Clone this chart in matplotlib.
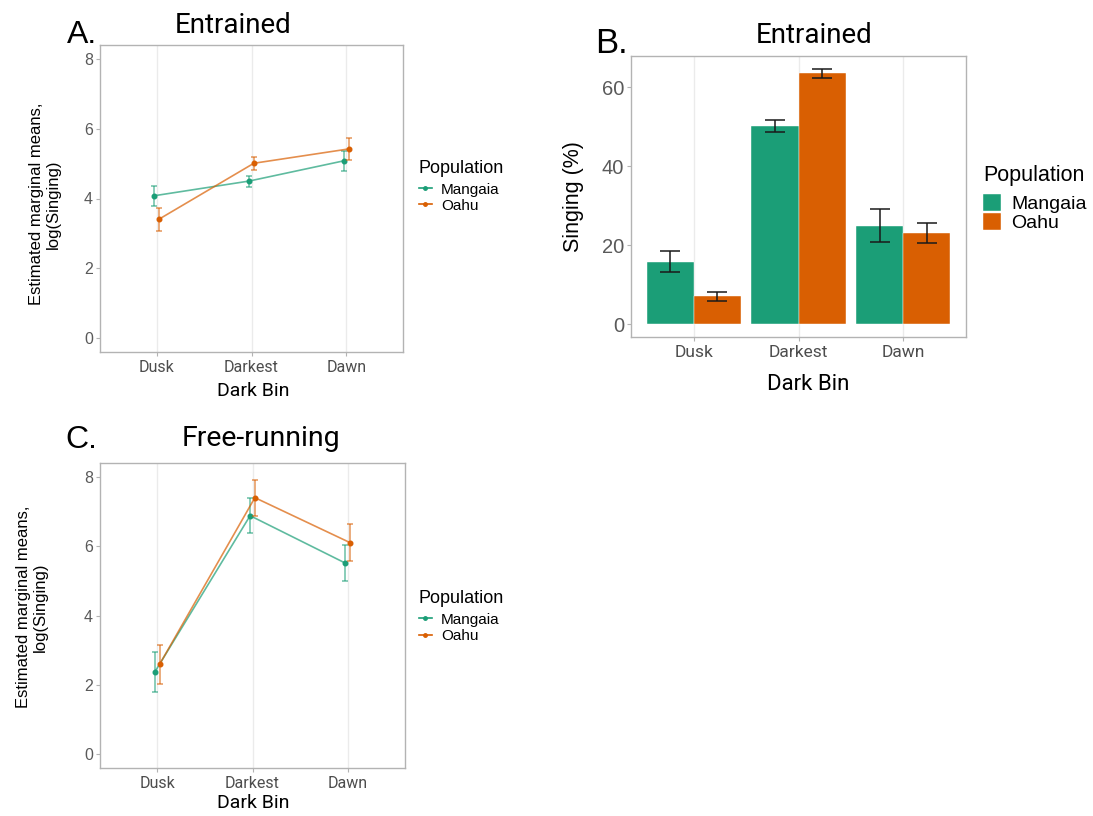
import matplotlib.pyplot as plt
from matplotlib.lines import Line2D
from matplotlib.patches import Patch
import numpy as np

bins = ['Dusk', 'Darkest', 'Dawn']
populations = ['Mangaia', 'Oahu']
pop_colors = ['#1B9E77', '#D95F02']

# entrained, estimated marginal means of log(singing)
ent_mangaia = [4.08, 4.50, 5.08]
ent_mangaia_lo = [3.79, 4.33, 4.80]
ent_mangaia_hi = [4.36, 4.65, 5.35]
ent_oahu = [3.41, 5.01, 5.42]
ent_oahu_lo = [3.08, 4.82, 5.09]
ent_oahu_hi = [3.72, 5.19, 5.72]

# free-running
free_mangaia = [2.37, 6.88, 5.51]
free_mangaia_lo = [1.80, 6.37, 5.00]
free_mangaia_hi = [2.95, 7.38, 6.02]
free_oahu = [2.59, 7.40, 6.10]
free_oahu_lo = [2.01, 6.88, 5.56]
free_oahu_hi = [3.16, 7.92, 6.64]

# entrained, percent of time singing
pct_mangaia = [15.7, 50.2, 25.0]
pct_mangaia_lo = [13.3, 48.6, 20.8]
pct_mangaia_hi = [18.6, 51.8, 29.3]
pct_oahu = [7.1, 63.5, 23.2]
pct_oahu_lo = [6.0, 62.3, 20.7]
pct_oahu_hi = [8.3, 64.7, 25.6]

plt.rcParams['font.family'] = ['Roboto', 'DejaVu Sans']
ARIAL = ['Liberation Sans', 'DejaVu Sans']

W, H = 1093, 816
fig = plt.figure(figsize=(W / 100, H / 100), dpi=100)


def box(left, top, right, bottom):
    return [left / W, 1 - bottom / H, (right - left) / W, (bottom - top) / H]


def put(x, y, s, **kw):
    kw.setdefault('ha', 'center')
    kw.setdefault('va', 'center')
    fig.text(x / W, 1 - y / H, s, **kw)


def gg_style(ax, xsize, ysize):
    for sp in ax.spines.values():
        sp.set_color('#B3B3B3')
        sp.set_linewidth(1.0)
    ax.tick_params(color='#B3B3B3', length=3, width=0.8)
    ax.tick_params(axis='x', labelsize=xsize, pad=3, labelcolor='#4D4D4D')
    ax.tick_params(axis='y', labelsize=ysize, pad=2, labelcolor='#5A5A5A')
    for lab in ax.get_yticklabels():
        lab.set_family(ARIAL)
    ax.grid(axis='x', color='#EBEBEB', lw=1)
    ax.set_axisbelow(True)


def line_panel(ax, series):
    x = np.arange(len(bins))
    for (mean, lo, hi), col, dodge in zip(series, pop_colors, (-0.025, 0.025)):
        mean, lo, hi = np.array(mean), np.array(lo), np.array(hi)
        ax.errorbar(x + dodge, mean, yerr=[mean - lo, hi - mean], fmt='none',
                    ecolor=col, alpha=0.6, elinewidth=1.2, capsize=2, capthick=1.2)
        ax.plot(x + dodge, mean, color=col, lw=1.2, alpha=0.7)
        ax.plot(x + dodge, mean, 'o', color=col, ms=3.3)
    ax.set_xlim(-0.6, 2.6)
    ax.set_ylim(-0.4, 8.4)
    ax.set_xticks(x)
    ax.set_xticklabels(bins)
    ax.set_yticks([0, 2, 4, 6, 8])
    gg_style(ax, 11.5, 11.5)


def line_legend(x, y):
    handles = [Line2D([], [], color=c, lw=1.2, marker='o', ms=2.5) for c in pop_colors]
    leg = fig.legend(handles, populations, title='Population', loc='upper left',
                     bbox_to_anchor=(x / W, 1 - y / H), frameon=False,
                     handlelength=0.85, handletextpad=0.6, labelspacing=0.15,
                     borderpad=0, borderaxespad=0,
                     prop={'family': ARIAL, 'size': 11},
                     title_fontproperties={'family': ARIAL, 'size': 13})
    leg._legend_box.align = 'left'
    leg._legend_box.sep = 4


# A. entrained, marginal means
axA = fig.add_axes(box(100, 45, 403, 352))
line_panel(axA, [(ent_mangaia, ent_mangaia_lo, ent_mangaia_hi),
                 (ent_oahu, ent_oahu_lo, ent_oahu_hi)])
put(82, 43, 'A.', fontsize=23, family=ARIAL, va='baseline')
put(233, 33, 'Entrained', fontsize=20, va='baseline')
put(253, 391, 'Dark Bin', fontsize=14)
put(45, 204, 'Estimated marginal means,\nlog(Singing)', fontsize=12, rotation=90,
    family=ARIAL, linespacing=1.2)
line_legend(419, 160)

# C. free-running, marginal means
axC = fig.add_axes(box(100, 463, 405, 768))
line_panel(axC, [(free_mangaia, free_mangaia_lo, free_mangaia_hi),
                 (free_oahu, free_oahu_lo, free_oahu_hi)])
put(81, 448, 'C.', fontsize=23, family=ARIAL, va='baseline')
put(261, 446, 'Free-running', fontsize=20.5, va='baseline')
put(253, 803, 'Dark Bin', fontsize=14)
put(32, 607, 'Estimated marginal means,\nlog(Singing)', fontsize=12, rotation=90,
    family=ARIAL, linespacing=1.2)
line_legend(419, 590)

# B. entrained, percent singing
axB = fig.add_axes(box(631, 56, 966, 337))
x = np.arange(len(bins))
bw = 0.45
for vals, lo, hi, col, off in ((pct_mangaia, pct_mangaia_lo, pct_mangaia_hi, pop_colors[0], -bw / 2),
                               (pct_oahu, pct_oahu_lo, pct_oahu_hi, pop_colors[1], bw / 2)):
    vals, lo, hi = np.array(vals), np.array(lo), np.array(hi)
    axB.bar(x + off, vals, width=bw, color=col, edgecolor='white', linewidth=0.3)
    axB.errorbar(x + off, vals, yerr=[vals - lo, hi - vals], fmt='none',
                 ecolor='#1a1a1a', elinewidth=1.1, capsize=7.5, capthick=1.1)
axB.set_xlim(-0.6, 2.6)
axB.set_ylim(-3.2, 67.9)
axB.set_xticks(x)
axB.set_xticklabels(bins)
axB.set_yticks([0, 20, 40, 60])
gg_style(axB, 12.5, 14.5)
put(611, 53, 'B.', fontsize=25, family=ARIAL, va='baseline')
put(814, 43, 'Entrained', fontsize=20, va='baseline')
put(808, 385, 'Dark Bin', fontsize=16)
put(573, 197, 'Singing (%)', fontsize=15.5, rotation=90, family=ARIAL)
handles = [Patch(facecolor=c, edgecolor='white', lw=0.3) for c in pop_colors]
leg = fig.legend(handles, populations, title='Population', loc='upper left',
                 bbox_to_anchor=(983 / W, 1 - 165 / H), frameon=False,
                 handlelength=0.9, handleheight=0.95, handletextpad=0.55, labelspacing=0.0,
                 borderpad=0, borderaxespad=0,
                 prop={'family': ARIAL, 'size': 14},
                 title_fontproperties={'family': ARIAL, 'size': 15.5})
leg._legend_box.align = 'left'
leg._legend_box.sep = 6

fig.savefig('out.png', dpi=100, facecolor='white')
